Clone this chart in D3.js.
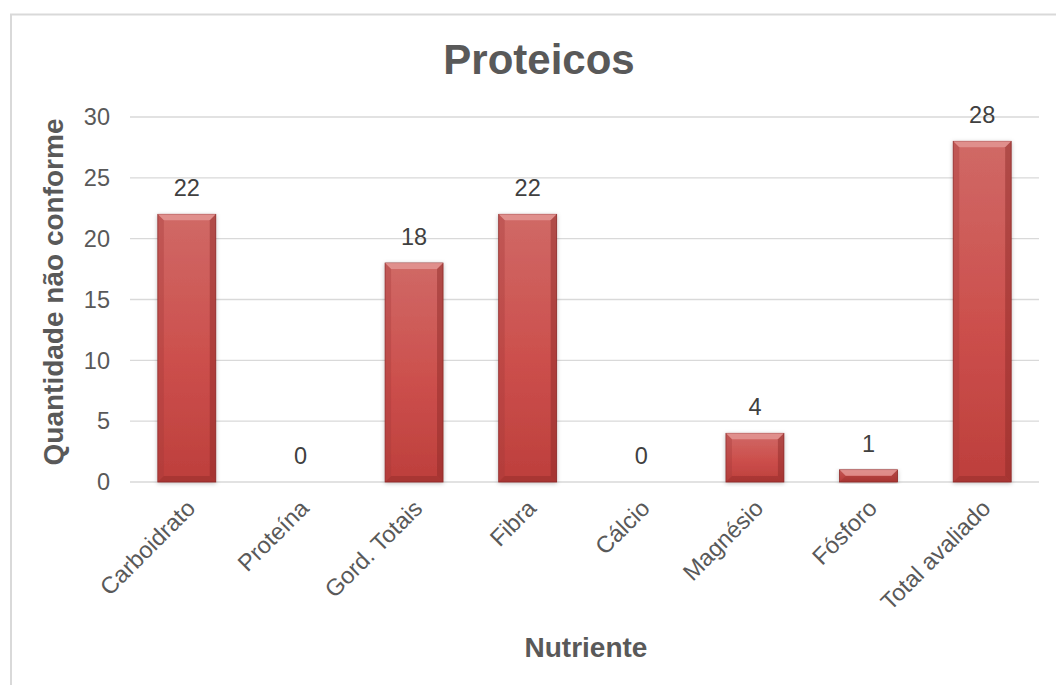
<!DOCTYPE html>
<html>
<head>
<meta charset="utf-8">
<script src="https://cdn.jsdelivr.net/npm/d3@7"></script>
<style>
  body { margin: 0; background: #fff; }
  svg { display: block; font-family: "Liberation Sans", Arial, sans-serif; }
</style>
</head>
<body>
<div id="chart"></div>
<script>
// Chart data
const categories = ["Carboidrato", "Proteína", "Gord. Totais", "Fibra", "Cálcio", "Magnésio", "Fósforo", "Total avaliado"];
const values = [22, 0, 18, 22, 0, 4, 1, 28];
const yTicks = [0, 5, 10, 15, 20, 25, 30];

const W = 1056, H = 685;
const margin = { top: 117, right: 17, bottom: 203, left: 130 };
const width = W - margin.left - margin.right;
const height = H - margin.top - margin.bottom;

const svg = d3.select("#chart").append("svg")
    .attr("width", W)
    .attr("height", H);

// defs: gradient + shadow for the bevelled bars
const defs = svg.append("defs");
const grad = defs.append("linearGradient").attr("id", "barGrad")
    .attr("x1", 0).attr("y1", 0).attr("x2", 0).attr("y2", 1);
grad.append("stop").attr("offset", "0%").attr("stop-color", "#d06966");
grad.append("stop").attr("offset", "55%").attr("stop-color", "#cc4f4c");
grad.append("stop").attr("offset", "100%").attr("stop-color", "#bd3f3c");

const shadow = defs.append("filter").attr("id", "shadow")
    .attr("x", "-20%").attr("y", "-10%").attr("width", "140%").attr("height", "120%");
shadow.append("feDropShadow").attr("dx", 0).attr("dy", 1).attr("stdDeviation", 2)
    .attr("flood-color", "#000").attr("flood-opacity", 0.25);

// outer chart border (only left and top visible)
svg.append("path")
    .attr("d", `M11,${H} L11,14.5 L${W},14.5`)
    .attr("fill", "none")
    .attr("stroke", "#d9d9d9")
    .attr("stroke-width", 2);

const g = svg.append("g").attr("transform", `translate(${margin.left},${margin.top})`);

const x = d3.scaleBand().domain(categories).range([0, width]).paddingInner(0.49).paddingOuter(0.245);
const y = d3.scaleLinear().domain([0, 30]).range([height, 0]);

// gridlines
g.append("g").selectAll("line")
    .data(yTicks)
    .enter().append("line")
    .attr("x1", 0).attr("x2", width)
    .attr("y1", d => y(d)).attr("y2", d => y(d))
    .attr("stroke", "#d9d9d9")
    .attr("stroke-width", 1.3);

// y tick labels
g.append("g").selectAll("text")
    .data(yTicks)
    .enter().append("text")
    .attr("x", -20)
    .attr("y", d => y(d))
    .attr("dy", "0.35em")
    .attr("text-anchor", "end")
    .attr("font-size", 23.5)
    .attr("fill", "#595959")
    .text(d => d);

// bars
const bars = g.append("g").selectAll("g")
    .data(categories.map((c, i) => ({ cat: c, val: values[i] })))
    .enter().append("g")
    .filter(d => d.val > 0);

bars.append("rect")
    .attr("x", d => x(d.cat))
    .attr("y", d => y(d.val))
    .attr("width", x.bandwidth())
    .attr("height", d => height - y(d.val))
    .attr("fill", "url(#barGrad)")
    .attr("stroke", "#8e2b29")
    .attr("stroke-width", 0.8)
    .attr("filter", "url(#shadow)");

// bevel on top edge
const bev = 6;
bars.append("path")
    .attr("d", d => {
        const x0 = x(d.cat), x1 = x0 + x.bandwidth(), y0 = y(d.val);
        const b = Math.min(bev, (height - y0) / 2);
        return `M${x0},${y0} L${x1},${y0} L${x1 - b},${y0 + b} L${x0 + b},${y0 + b} Z`;
    })
    .attr("fill", "#e49896")
    .attr("opacity", 0.8);

// side bevels
bars.append("path")
    .attr("d", d => {
        const x0 = x(d.cat), y0 = y(d.val);
        const b = Math.min(bev, (height - y0) / 2);
        return `M${x0},${y0} L${x0 + b},${y0 + b} L${x0 + b},${height - b} L${x0},${height} Z`;
    })
    .attr("fill", "#a33a38")
    .attr("opacity", 0.35);
bars.append("path")
    .attr("d", d => {
        const x1 = x(d.cat) + x.bandwidth(), y0 = y(d.val);
        const b = Math.min(bev, (height - y0) / 2);
        return `M${x1},${y0} L${x1 - b},${y0 + b} L${x1 - b},${height - b} L${x1},${height} Z`;
    })
    .attr("fill", "#8a2826")
    .attr("opacity", 0.45);
bars.append("path")
    .attr("d", d => {
        const x0 = x(d.cat), x1 = x0 + x.bandwidth(), y0 = y(d.val);
        const b = Math.min(bev, (height - y0) / 2);
        return `M${x0},${height} L${x0 + b},${height - b} L${x1 - b},${height - b} L${x1},${height} Z`;
    })
    .attr("fill", "#8a2826")
    .attr("opacity", 0.4);

// data labels
g.append("g").selectAll("text")
    .data(categories.map((c, i) => ({ cat: c, val: values[i] })))
    .enter().append("text")
    .attr("x", d => x(d.cat) + x.bandwidth() / 2)
    .attr("y", d => y(d.val) - 18)
    .attr("text-anchor", "middle")
    .attr("font-size", 23.5)
    .attr("fill", "#404040")
    .text(d => d.val);

// x tick labels
g.append("g").selectAll("text")
    .data(categories)
    .enter().append("text")
    .attr("transform", d => `translate(${x(d) + x.bandwidth() / 2 + 4},${height + 22}) rotate(-45)`)
    .attr("text-anchor", "end")
    .attr("dy", "0.35em")
    .attr("font-size", 23.5)
    .attr("fill", "#595959")
    .text(d => d);

// title
svg.append("text")
    .attr("x", 539)
    .attr("y", 74)
    .attr("text-anchor", "middle")
    .attr("font-size", 42)
    .attr("font-weight", "bold")
    .attr("fill", "#595959")
    .text("Proteicos");

// axis titles
svg.append("text")
    .attr("transform", `translate(63,292) rotate(-90)`)
    .attr("text-anchor", "middle")
    .attr("font-size", 28)
    .attr("font-weight", "bold")
    .attr("fill", "#595959")
    .text("Quantidade não conforme");

svg.append("text")
    .attr("x", 586)
    .attr("y", 657)
    .attr("text-anchor", "middle")
    .attr("font-size", 28)
    .attr("font-weight", "bold")
    .attr("fill", "#595959")
    .text("Nutriente");
</script>
</body>
</html>
